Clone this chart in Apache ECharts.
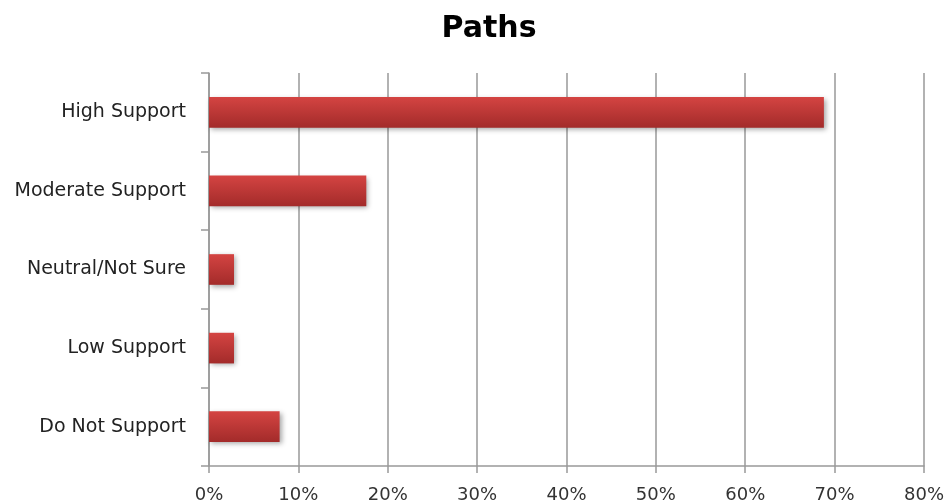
<!DOCTYPE html>
<html><head><meta charset="utf-8">
<script src="https://cdn.jsdelivr.net/npm/echarts@6/dist/echarts.min.js"></script>
<style>html,body{margin:0;padding:0;background:#fff}#c{width:947px;height:504px}</style>
</head><body><div id="c"></div>
<script>
const categories = ["High Support","Moderate Support","Neutral/Not Sure","Low Support","Do Not Support"];
const values = [68.8, 17.6, 2.8, 2.8, 7.9];
const xTicks = [0,10,20,30,40,50,60,70,80];

const chart = echarts.init(document.getElementById('c'), null, {renderer:'canvas'});
chart.setOption({
  backgroundColor:'#fff',
  animation:false,
  title:{text:'Paths',left:484,top:9,textAlign:'center',textStyle:{fontFamily:'DejaVu Sans',fontWeight:'bold',fontSize:30,color:'#000'}},
  grid:{left:209,right:21,top:73,bottom:38,containLabel:false},
  xAxis:{type:'value',min:0,max:80,interval:10,
    axisLine:{show:true,lineStyle:{color:'#999',width:1.5}},
    axisTick:{show:true,length:7,lineStyle:{color:'#999',width:1.5}},
    splitLine:{show:true,lineStyle:{color:'#999',width:1.5}},
    axisLabel:{formatter:v=>v+'%',margin:20,fontFamily:'DejaVu Sans',fontSize:18,color:'#333'}},
  yAxis:{type:'category',data:categories,inverse:true,
    axisLine:{show:true,lineStyle:{color:'#999',width:1.5}},
    axisTick:{show:true,length:8,lineStyle:{color:'#999',width:1.5}},
    axisLabel:{margin:23,padding:[7,0,0,0],fontFamily:'DejaVu Sans',fontSize:19,color:'#222'}},
  series:[{type:'bar',data:values,barWidth:'39%',
    itemStyle:{color:new echarts.graphic.LinearGradient(0,0,0,1,[{offset:0,color:'#d44442'},{offset:1,color:'#a32b2a'}]),
      shadowColor:'rgba(0,0,0,0.35)',shadowBlur:5,shadowOffsetX:2,shadowOffsetY:2}}]
});
</script></body></html>
